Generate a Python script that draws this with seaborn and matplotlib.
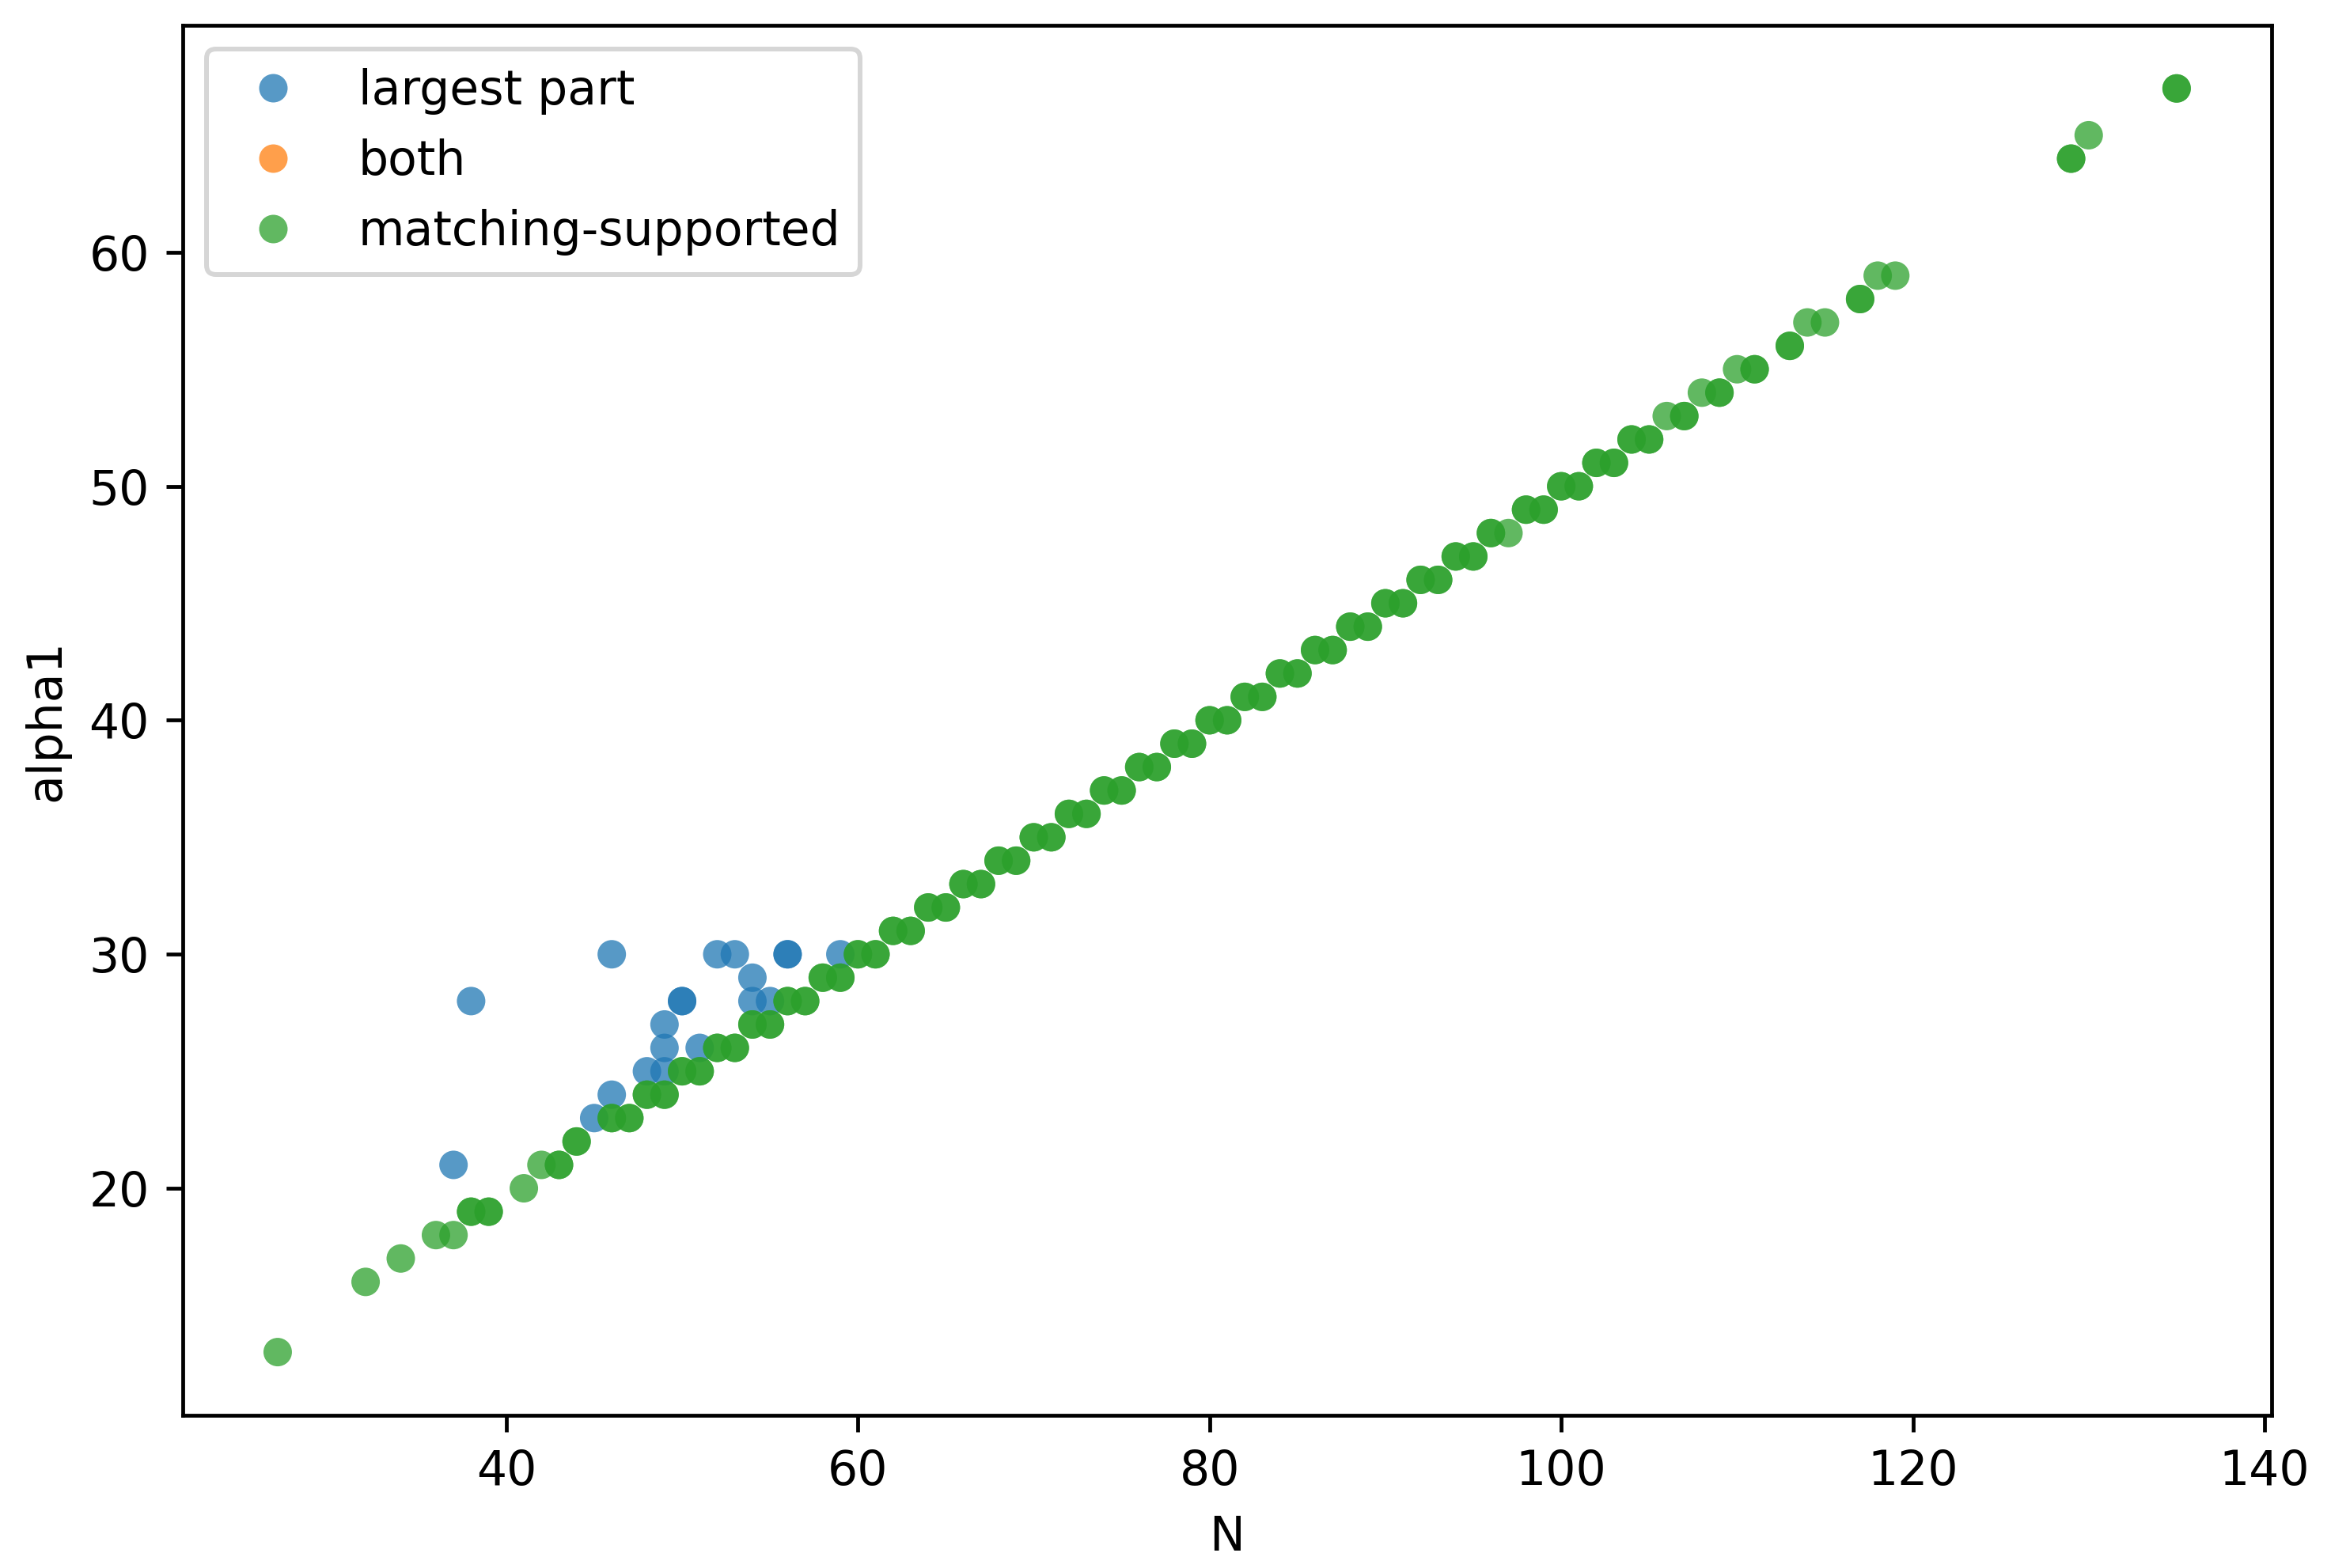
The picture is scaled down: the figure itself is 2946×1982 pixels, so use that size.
import pandas as pd
import matplotlib.pyplot as plt
import seaborn as sns

# ======== DATA ========
# points of the "largest part" group (repeated entries = overlapping points)
largest_N = [37, 38, 45, 46, 46, 48, 49, 49, 49, 50, 50, 51, 52, 53,
             54, 54, 55, 56, 56, 59]
largest_alpha1 = [21, 28, 23, 24, 30, 25, 25, 26, 27, 28, 28, 26, 30, 30,
                  29, 28, 28, 30, 30, 30]

# points of the "matching-supported" group (repeated entries = overlapping points)
matching_N = [27, 32, 34, 36, 37, 38, 38, 39, 39, 41, 42, 43, 43, 44, 44,
              46, 46, 47, 47, 48, 48, 49, 49, 50, 50, 51, 51, 52, 52, 53, 53,
              54, 54, 55, 55, 56, 56, 57, 57, 58, 58, 59, 59, 60, 60, 61, 61,
              62, 62, 63, 63, 64, 64, 65, 65, 66, 66, 67, 67, 68, 68, 69, 69,
              70, 70, 71, 71, 72, 72, 73, 73, 74, 74, 75, 75, 76, 76, 77, 77,
              78, 78, 79, 79, 80, 80, 81, 81, 82, 82, 83, 83, 84, 84, 85, 85,
              86, 86, 87, 87, 88, 88, 89, 89, 90, 90, 91, 91, 92, 92, 93, 93,
              94, 94, 95, 95, 96, 96, 97, 98, 98, 99, 99, 100, 100, 101, 101,
              102, 102, 103, 103, 104, 104, 105, 105, 106, 107, 107, 108,
              109, 109, 110, 111, 111, 113, 113, 114, 115, 117, 117, 118, 119,
              129, 129, 130, 135, 135]
matching_alpha1 = [13, 16, 17, 18, 18, 19, 19, 19, 19, 20, 21, 21, 21, 22, 22,
                   23, 23, 23, 23, 24, 24, 24, 24, 25, 25, 25, 25, 26, 26, 26, 26,
                   27, 27, 27, 27, 28, 28, 28, 28, 29, 29, 29, 29, 30, 30, 30, 30,
                   31, 31, 31, 31, 32, 32, 32, 32, 33, 33, 33, 33, 34, 34, 34, 34,
                   35, 35, 35, 35, 36, 36, 36, 36, 37, 37, 37, 37, 38, 38, 38, 38,
                   39, 39, 39, 39, 40, 40, 40, 40, 41, 41, 41, 41, 42, 42, 42, 42,
                   43, 43, 43, 43, 44, 44, 44, 44, 45, 45, 45, 45, 46, 46, 46, 46,
                   47, 47, 47, 47, 48, 48, 48, 49, 49, 49, 49, 50, 50, 50, 50,
                   51, 51, 51, 51, 52, 52, 52, 52, 53, 53, 53, 54,
                   54, 54, 55, 55, 55, 56, 56, 57, 57, 58, 58, 59, 59,
                   64, 64, 65, 67, 67]

categories = ["largest part", "both", "matching-supported"]
# ======================

df = pd.DataFrame({
    "N": largest_N + matching_N,
    "alpha1": largest_alpha1 + matching_alpha1,
    "kind": ["largest part"] * len(largest_N) + ["matching-supported"] * len(matching_N),
})
df["kind"] = pd.Categorical(df["kind"], categories=categories)

DPI = 432
fig, ax = plt.subplots(figsize=(2946 / DPI, 1982 / DPI), dpi=DPI)
fig.subplots_adjust(left=0.0784, right=0.9745, top=0.9839, bottom=0.0974)

sns.scatterplot(data=df, x="N", y="alpha1", hue="kind", palette="tab10",
                alpha=0.75, linewidth=0, s=36, ax=ax)

sns.move_legend(ax, "upper left", title=None)

fig.savefig("out.png", dpi=DPI)
